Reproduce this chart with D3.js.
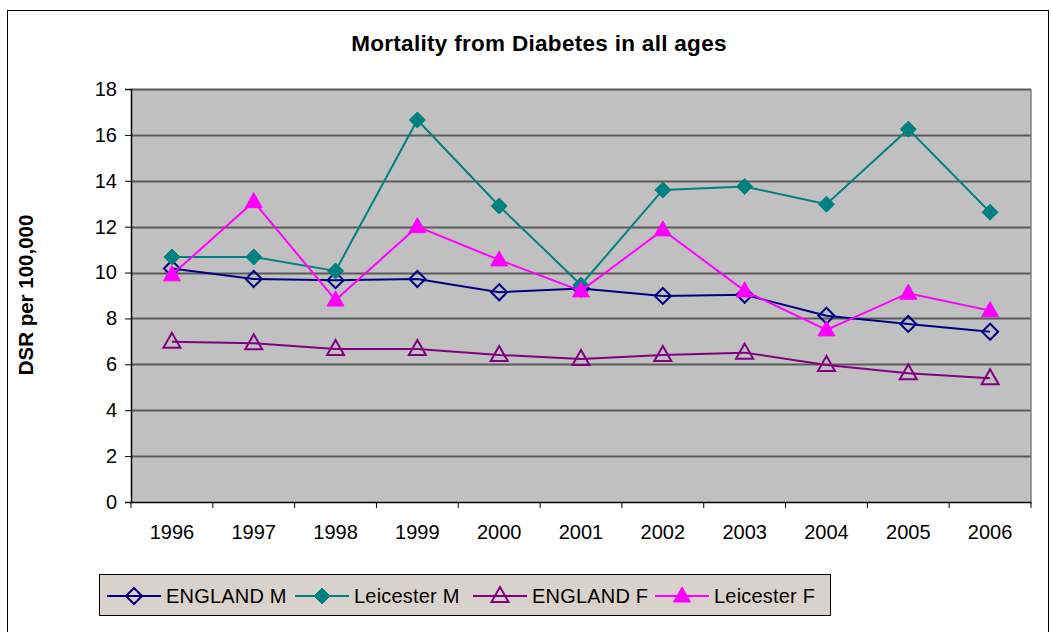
<!DOCTYPE html>
<html><head><meta charset="utf-8">
<script src="https://cdn.jsdelivr.net/npm/d3@7"></script>
<style>body{margin:0;background:#fff;} svg{display:block;font-family:"Liberation Sans",Arial,sans-serif;}</style>
</head><body>
<svg id="c" width="1051" height="632"></svg>
<script>
const years = ["1996","1997","1998","1999","2000","2001","2002","2003","2004","2005","2006"];
const englandM = [10.18, 9.72, 9.67, 9.72, 9.14, 9.31, 8.98, 9.03, 8.12, 7.76, 7.42];
const leicesterM = [10.68, 10.68, 10.07, 16.65, 12.9, 9.46, 13.6, 13.75, 12.98, 16.25, 12.63];
const englandF = [6.98, 6.92, 6.67, 6.67, 6.41, 6.23, 6.41, 6.51, 5.97, 5.61, 5.39];
const leicesterF = [9.9, 13.09, 8.8, 12.0, 10.55, 9.2, 11.86, 9.2, 7.5, 9.1, 8.34];
const yTicks = [0,2,4,6,8,10,12,14,16,18];
const seriesNames = ["ENGLAND M","Leicester M","ENGLAND F","Leicester F"];

const series = [
  {name: seriesNames[0], values: englandM, color: "#000080", marker: "diamond", filled: false},
  {name: seriesNames[1], values: leicesterM, color: "#008080", marker: "diamond", filled: true},
  {name: seriesNames[2], values: englandF, color: "#800080", marker: "triangle", filled: false},
  {name: seriesNames[3], values: leicesterF, color: "#FF00FF", marker: "triangle", filled: true}
];

const svg = d3.select("#c");
const L = 131, R = 1031, T = 89, B = 502;

// outer frame
svg.append("rect").attr("x",7.5).attr("y",10.5).attr("width",1041).attr("height",640)
  .attr("fill","none").attr("stroke","#000").attr("stroke-width",1);

svg.append("text").attr("x",539).attr("y",51).attr("text-anchor","middle")
  .attr("font-weight","bold").attr("font-size",22.5).attr("letter-spacing","0.3")
  .text("Mortality from Diabetes in all ages");

const x = d3.scaleBand().domain(years).range([L,R]);
const y = d3.scaleLinear().domain([0,18]).range([B,T]);

svg.append("rect").attr("x",L).attr("y",T).attr("width",R-L).attr("height",B-T).attr("fill","#c0c0c0");

// gridlines
svg.append("g").selectAll("line").data(yTicks.filter(d=>d>0)).join("line")
  .attr("x1",L).attr("x2",R).attr("y1",d=>Math.round(y(d))+0.5).attr("y2",d=>Math.round(y(d))+0.5)
  .attr("stroke","#5a5a5a").attr("stroke-width",2);
// right border of plot
svg.append("line").attr("x1",R).attr("x2",R).attr("y1",T).attr("y2",B).attr("stroke","#808080").attr("stroke-width",1.5);

// y axis
const yAxis = svg.append("g").attr("transform",`translate(${L},0)`)
  .call(d3.axisLeft(y).tickValues(yTicks).tickSize(6).tickPadding(8).tickFormat(d3.format("d")));
yAxis.select(".domain").attr("stroke","#000").attr("stroke-width",1.5);
yAxis.selectAll(".tick line").attr("stroke","#000");
yAxis.selectAll(".tick text").attr("font-size",20).attr("font-family","Liberation Sans, Arial, sans-serif").attr("fill","#000");

// x axis
const xAxis = svg.append("g").attr("transform",`translate(0,${B})`)
  .call(d3.axisBottom(x).tickSize(0).tickPadding(23));
xAxis.select(".domain").attr("stroke","#000").attr("stroke-width",1.5);
xAxis.selectAll(".tick text").attr("font-size",20).attr("font-family","Liberation Sans, Arial, sans-serif").attr("fill","#000");
// tick marks between categories
const bounds = years.map(d=>x(d)).concat([R]);
svg.append("g").selectAll("line").data(bounds).join("line")
  .attr("x1",d=>d).attr("x2",d=>d).attr("y1",B).attr("y2",B+6).attr("stroke","#000").attr("stroke-width",1);

// y label
svg.append("text").attr("transform","translate(33,295) rotate(-90)").attr("text-anchor","middle")
  .attr("font-weight","bold").attr("font-size",20.5).text("DSR per 100,000");

function markerPath(type){
  if(type==="diamond") return "M0,-8L8,0L0,8L-8,0Z";
  return "M0,-9L8.5,6L-8.5,6Z";
}

const line = d3.line().x((d,i)=>x(years[i])+x.bandwidth()/2).y(d=>y(d));
series.forEach(s=>{
  const g = svg.append("g");
  g.append("path").datum(s.values).attr("d",line).attr("fill","none").attr("stroke",s.color).attr("stroke-width",2);
  g.selectAll("path.m").data(s.values).join("path").attr("class","m")
    .attr("transform",(d,i)=>`translate(${x(years[i])+x.bandwidth()/2},${y(d)})`)
    .attr("d",markerPath(s.marker))
    .attr("fill",s.filled?s.color:"none").attr("stroke",s.color).attr("stroke-width",s.filled?1:2);
});

// legend
const lg = svg.append("g");
lg.append("rect").attr("x",99.5).attr("y",574.5).attr("width",731).attr("height",41)
  .attr("fill","#d8d1cc").attr("stroke","#000").attr("stroke-width",1);
const legX = [107, 295, 473, 655];
series.forEach((s,i)=>{
  const gx = legX[i], gy = 596;
  lg.append("line").attr("x1",gx).attr("x2",gx+54).attr("y1",gy).attr("y2",gy).attr("stroke",s.color).attr("stroke-width",2);
  lg.append("path").attr("transform",`translate(${gx+27},${gy})`).attr("d",markerPath(s.marker))
    .attr("fill",s.filled?s.color:"none").attr("stroke",s.color).attr("stroke-width",s.filled?1:2);
  lg.append("text").attr("x",gx+59).attr("y",gy+7).attr("font-size",20).attr("letter-spacing","0.2").text(s.name);
});
</script>
</body></html>
